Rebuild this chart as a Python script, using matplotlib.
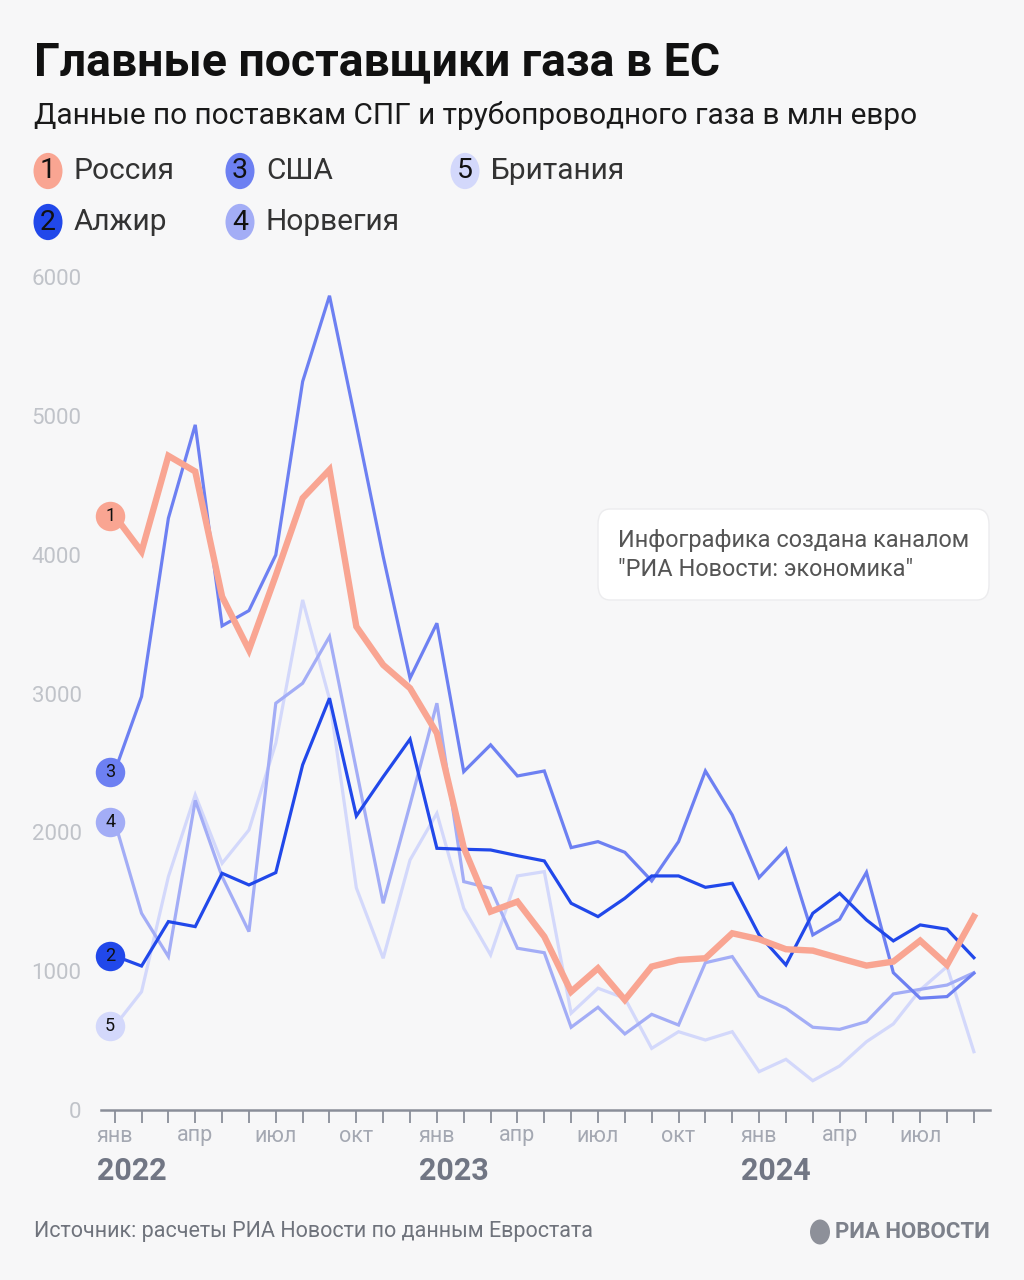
import matplotlib
matplotlib.use("Agg")
import matplotlib.pyplot as plt
from matplotlib.patches import FancyBboxPatch, Circle

plt.rcParams['font.family'] = ['Roboto', 'DejaVu Sans']

months = list(range(33))
month_labels = ["янв", "апр", "июл", "окт"] * 3
month_label_pos = [0, 3, 6, 9, 12, 15, 18, 21, 24, 27, 30]
years = ["2022", "2023", "2024"]
year_pos = [0, 12, 24]

names = ["Россия", "Алжир", "США", "Норвегия", "Британия"]
russia = [4280, 4022, 4712, 4599, 3698, 3314, 3850, 4407, 4611, 3482, 3206, 3038,
          2714, 1890, 1429, 1501, 1249, 852, 1021, 793, 1033, 1081, 1093, 1273,
          1230, 1158, 1148, 1093, 1040, 1069, 1220, 1045, 1393]
algeria = [1110, 1037, 1357, 1321, 1705, 1621, 1710, 2486, 2966, 2118, 2400, 2671,
           1885, 1878, 1873, 1832, 1794, 1489, 1393, 1525, 1686, 1686, 1604, 1633,
           1261, 1045, 1417, 1561, 1369, 1218, 1333, 1302, 1097]
usa = [2437, 2978, 4263, 4935, 3487, 3597, 3998, 5247, 5865, 4935, 3987, 3110,
       3506, 2437, 2630, 2406, 2442, 1890, 1933, 1856, 1650, 1933, 2442, 2125,
       1674, 1880, 1261, 1374, 1712, 989, 805, 817, 985]
norway = [2077, 1417, 1105, 2230, 1681, 1285, 2930, 3074, 3410, 2450, 1489, 2200,
          2930, 1645, 1597, 1165, 1133, 596, 740, 548, 689, 612, 1061, 1105,
          821, 733, 596, 581, 636, 836, 869, 900, 989]
britain = [605, 852, 1681, 2270, 1777, 2017, 2642, 3674, 2960, 1600, 1093, 1801,
           2137, 1453, 1117, 1686, 1717, 697, 877, 805, 444, 564, 504, 564,
           276, 365, 211, 317, 492, 620, 865, 1033, 420]
yticks = [0, 1000, 2000, 3000, 4000, 5000, 6000]

colors = ["#f9a592", "#2148ea", "#6d80f2", "#a3adf6", "#d3d8fb"]
widths = [4.6, 2.3, 2.3, 2.3, 2.3]
series = [russia, algeria, usa, norway, britain]

W, H = 1024, 1280
BG = "#f7f7f8"
fig = plt.figure(figsize=(W / 100, H / 100), dpi=100, facecolor=BG)

def fx(px):
    return px / W

def fy(py):
    return 1 - py / H

# axes: x pixel 101..990, y pixel 1110 (0) .. 277 (6000)
ax = fig.add_axes([fx(101), fy(1110), fx(990) - fx(101), fy(277) - fy(1110)])
ax.set_facecolor(BG)
ax.set_xlim(-0.51, 32.6)
ax.set_ylim(0, 6000)

for i in [4, 3, 2, 1, 0]:
    ax.plot(months, series[i], color=colors[i], lw=widths[i], solid_joinstyle="miter",
            zorder=3 + (4 - i), clip_on=False)

# numbered start markers
for i in range(5):
    ax.scatter([-0.17], [series[i][0]], s=450, color=colors[i], zorder=10, clip_on=False,
               linewidths=0)
    ax.text(-0.17, series[i][0], str(i + 1), ha="center", va="center", fontsize=13,
            color="#111111", zorder=11)

for s in ["top", "right", "left"]:
    ax.spines[s].set_visible(False)
ax.spines["bottom"].set_color("#8a8e99")
ax.spines["bottom"].set_linewidth(1.8)
ax.set_xticks(months)
ax.set_xticklabels([])
ax.tick_params(axis="x", length=9, width=1.3, color="#8a8e99", direction="out")
ax.set_yticks(yticks)
ax.set_yticklabels([str(v) for v in yticks], fontsize=16, color="#c0c3c9")
ax.tick_params(axis="y", length=0, pad=14)

for p, lab in zip(month_label_pos, month_labels):
    ax.annotate(lab, xy=(p, 0), xycoords="data", xytext=(0, -26), textcoords="offset pixels",
                ha="center", va="center", fontsize=15.5, color="#a4a8b2")
for p, lab in zip(year_pos, years):
    ax.annotate(lab, xy=(p, 0), xycoords="data", xytext=(-18, -61), textcoords="offset pixels",
                ha="left", va="center", fontsize=22, fontweight="bold", color="#717684")

# titles
fig.text(fx(34), fy(62), "Главные поставщики газа в ЕС", fontsize=33.4, fontweight="bold",
         color="#111111", ha="left", va="center")
fig.text(fx(34), fy(115), "Данные по поставкам СПГ и трубопроводного газа в млн евро",
         fontsize=21.4, color="#1a1a1a", ha="left", va="center")

# legend
legend_pos = [(48, 171), (48, 222), (240, 171), (240, 222), (465, 171)]
for i, (cx, cy) in enumerate(legend_pos):
    fig.patches.append(Circle((fx(cx), fy(cy)), radius=14.5 / W, transform=fig.transFigure,
                              facecolor=colors[i], edgecolor="none"))
    fig.text(fx(cx), fy(cy), str(i + 1), fontsize=20.5, color="#111111", ha="center",
             va="center")
    fig.text(fx(cx + 26), fy(cy), names[i], fontsize=21.5, color="#333333", ha="left",
             va="center")

# annotation box
box = FancyBboxPatch((fx(598), fy(600)), fx(989) - fx(598), fy(509) - fy(600),
                     boxstyle="round,pad=0,rounding_size=0.012", transform=fig.transFigure,
                     facecolor="white", edgecolor="#ececee", linewidth=1.0, zorder=20)
fig.patches.append(box)
fig.text(fx(618), fy(540), "Инфографика создана каналом", fontsize=16.9, color="#555555",
         ha="left", va="center", zorder=21)
fig.text(fx(618), fy(570), "\"РИА Новости: экономика\"", fontsize=16.9, color="#555555",
         ha="left", va="center", zorder=21)

# footer
fig.text(fx(34), fy(1231), "Источник: расчеты РИА Новости по данным Евростата", fontsize=15.5,
         color="#6f737c", ha="left", va="center")
fig.patches.append(Circle((fx(820), fy(1232)), radius=10 / W, transform=fig.transFigure,
                          facecolor="#8d9099", edgecolor="none"))
fig.text(fx(990), fy(1232), "РИА НОВОСТИ", fontsize=16, fontweight="bold", color="#7d818b",
         ha="right", va="center")

fig.savefig("out.png", dpi=100, facecolor=BG)
